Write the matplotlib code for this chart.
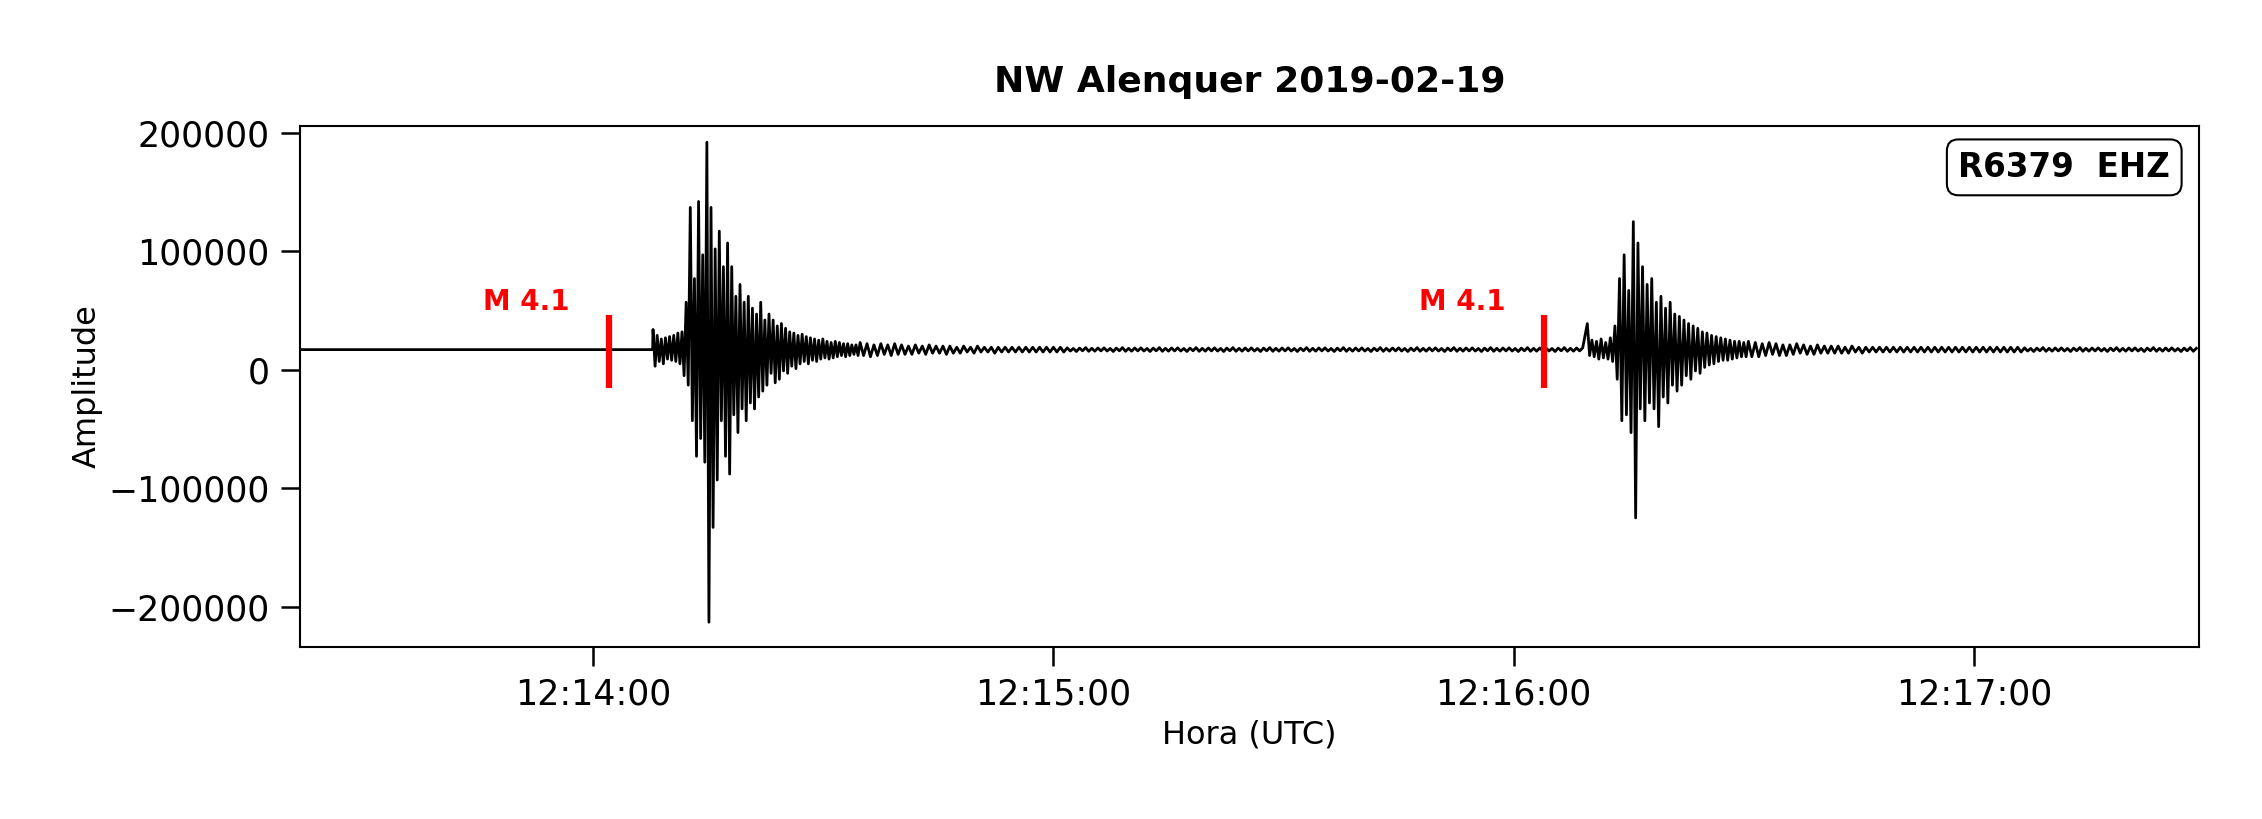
import numpy as np
import matplotlib
matplotlib.use("Agg")
import matplotlib.pyplot as plt
import matplotlib.dates as mdates

title = "NW Alenquer 2019-02-19"
station = "R6379  EHZ"
baseline = 17000
# event onsets (seconds after 12:13:00)
onset1 = 67.8
onset2 = 189.6
picks = [62.0, 184.0]       # red magnitude markers, seconds after 12:13:00
pick_labels = ["M 4.1", "M 4.1"]
# strong motion samples (thousands, deviation from baseline)
ev1_strong = [17, -14, 12, -10, 9, -12, 10, -8, 11, -9, 12, -10, 14, -12, 15, -22, 40, -30, 120, -60,
              60, -90, 125, -75, 80, -95, 175, -230, 120, -150, 85, -110, 100, -60, 70, -90, 90, -105, 70, -55,
              45, -70, 55, -50, 40, -60, 45, -45, 35, -50, 30, -40, 40, -35, 25, -30, 30, -20, 25, -28,
              20, -25, 22, -18, 18, -20, 15, -14, 14, -16, 12, -12, 13, -10, 11, -12, 10, -9, 9, -10,
              8, -8, 9, -7, 7, -8, 6, -7, 7, -6, 6, -5, 5, -6, 5, -5, 4, -4, 4, -5]
ev1_coda = [6, -5, 5, -6, 4, -5, 5, -4, 4, -5, 5, -4, 4, -4, 3, -4, 4, -3, 3, -4,
            4, -3, 3, -3, 3, -4, 3, -3, 2, -3, 3, -2, 2, -3, 3, -2, 2, -2, 2, -3,
            2, -2, 2, -2, 2, -2, 2, -2, 2, -2, 2, -2, 2, -2, 2, -2, 2, -2, 2, -2]
ev2_strong = [22, -5, 8, -6, 7, -8, 9, -7, 6, -8, 10, -10, 20, -25, 60, -60, 80, -55, 50, -70,
              108, -142, 90, -50, 70, -60, 55, -45, 60, -50, 40, -65, 45, -40, 35, -45, 40, -30, 30, -35,
              28, -30, 25, -22, 22, -25, 20, -18, 18, -20, 15, -15, 14, -13, 12, -12, 11, -10, 10, -9,
              9, -9, 8, -8, 7, -7, 7, -6, 6, -6]
ev2_coda = [7, -6, 6, -6, 5, -5, 6, -4, 5, -5, 4, -5, 4, -4, 5, -3, 4, -4, 3, -4,
            4, -3, 3, -3, 3, -3, 3, -3, 2, -3, 3, -2, 2, -3, 2, -2, 2, -2, 2, -2,
            2, -2, 2, -2, 2, -2, 2, -2, 2, -2, 2, -2, 2, -2, 2, -2, 2, -2, 2, -2,
            2, -2, 2, -2, 2, -2, 2, -2, 2, -2, 2, -2, 2, -2, 2, -2, 2, -2, 2, -2]
quiet_noise = [1.5, -1.2, 1.0, -1.6, 1.3, -1.0, 1.7, -1.4, 1.1, -1.3, 1.4, -1.1]

t_start, t_end = 21.8, 269.3

def seg(t0, vals, dt):
    t = t0 + dt * np.arange(len(vals))
    return t, np.array(vals, float)

ts, vs = [], []
ts.append(np.array([t_start, onset1 - 0.05])); vs.append(np.array([0.0, 0.0]))
t, v = seg(onset1, ev1_strong, 0.27); ts.append(t); vs.append(v)
t1 = t[-1] + 0.27
t, v = seg(t1, ev1_coda, 0.45); ts.append(t); vs.append(v)
tq = t[-1] + 0.45
nq = int((onset2 - tq) / 0.4)
t, v = seg(tq, np.resize(quiet_noise, nq), 0.4); ts.append(t); vs.append(v)
t, v = seg(onset2, ev2_strong, 0.3); ts.append(t); vs.append(v)
t2 = t[-1] + 0.3
t, v = seg(t2, ev2_coda, 0.45); ts.append(t); vs.append(v)
tq = t[-1] + 0.45
nq = int((t_end - tq) / 0.4) + 1
t, v = seg(tq, np.resize(quiet_noise, nq), 0.4); ts.append(t); vs.append(v)

tt = np.concatenate(ts)
yy = np.concatenate(vs) * 1000 + baseline
base = np.datetime64("2019-02-19T12:13:00")
def todt(sec):
    return base + (np.asarray(sec) * 1000).astype("timedelta64[ms]")

fig = plt.figure(figsize=(22.62, 8.19), dpi=100)
ax = fig.add_axes([0.1327, 0.2099, 0.8393, 0.6367])
ax.plot(todt(tt), yy, color="black", lw=2.0)
for p, lab in zip(picks, pick_labels):
    ax.vlines(todt(p), -15000, 46000, color="red", lw=4.5)
    ax.text(todt(p - 10.7), 57000, lab, color="red", fontsize=20, fontweight="bold", ha="center", va="center")
ax.set_xlim(todt(t_start), todt(t_end))
ax.set_ylim(-234000, 206000)
ax.set_yticks([-200000, -100000, 0, 100000, 200000])
ax.xaxis.set_major_locator(mdates.MinuteLocator())
ax.xaxis.set_major_formatter(mdates.DateFormatter("%H:%M:%S"))
ax.tick_params(labelsize=25, length=14, width=1.8, pad=8)
for s in ax.spines.values():
    s.set_linewidth(1.5)
ax.set_xlabel("Hora (UTC)", fontsize=23, labelpad=6)
ax.set_ylabel("Amplitude", fontsize=23)
ax.set_title(title, fontsize=26, fontweight="bold", pad=24)
ax.text(0.985, 0.92, station, transform=ax.transAxes, ha="right", va="center", fontsize=23.5, fontweight="bold",
        bbox=dict(boxstyle="round,pad=0.35", fc="white", ec="black", lw=1.5))
fig.savefig("out.png", dpi=100)
